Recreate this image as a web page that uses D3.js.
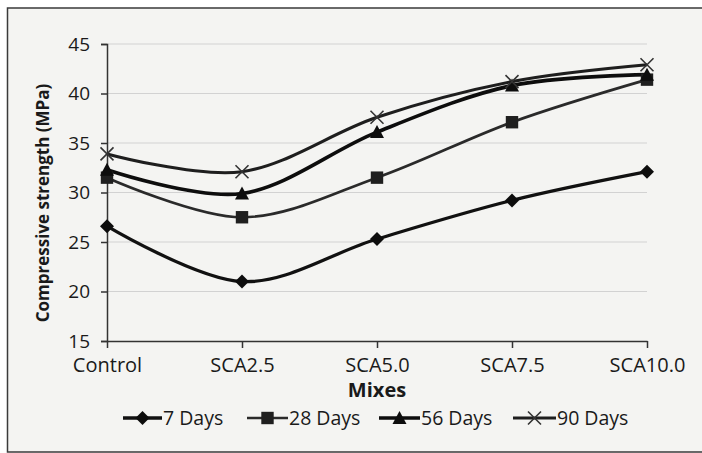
<!DOCTYPE html>
<html>
<head>
<meta charset="utf-8">
<script src="https://cdn.jsdelivr.net/npm/d3@7"></script>
<style>
  html, body { margin: 0; padding: 0; background: #ffffff; }
  svg { display: block; }
  text { font-family: "Open Sans", Lato, sans-serif; fill: #1a1a1a; }
</style>
</head>
<body>
<svg id="chart" width="702" height="453"></svg>
<script>
// Compressive strength by mix at each curing age
const mixes = ["Control", "SCA2.5", "SCA5.0", "SCA7.5", "SCA10.0"];
const days7  = [26.6, 21.0, 25.3, 29.2, 32.1];
const days28 = [31.5, 27.5, 31.5, 37.1, 41.4];
const days56 = [32.3, 29.9, 36.1, 40.8, 41.9];
const days90 = [33.9, 32.1, 37.6, 41.2, 42.9];
const seriesNames = ["7 Days", "28 Days", "56 Days", "90 Days"];
const yTicks = [15, 20, 25, 30, 35, 40, 45];

const series = [
  { name: seriesNames[0], values: days7,  marker: "diamond",  color: "#111", width: 3.3 },
  { name: seriesNames[1], values: days28, marker: "square",   color: "#2a2a2a", width: 2.7 },
  { name: seriesNames[2], values: days56, marker: "triangle", color: "#0d0d0d", width: 3.7 },
  { name: seriesNames[3], values: days90, marker: "cross",    color: "#1e1e1e", width: 3.1 }
];

const FONT = "'Open Sans', Lato, sans-serif";
const svg = d3.select("#chart");

// chart frame
svg.append("rect")
  .attr("x", 7.5).attr("y", 8).attr("width", 700).attr("height", 444)
  .attr("fill", "#f4f4f2").attr("stroke", "#3a3a3a").attr("stroke-width", 1.5);

const plot = { left: 107, right: 647, top: 44, bottom: 341 };

const x = d3.scalePoint().domain(mixes).range([plot.left, plot.right]).padding(0);
const y = d3.scaleLinear().domain([15, 45]).range([plot.bottom, plot.top]);

// horizontal gridlines
svg.append("g")
  .selectAll("line")
  .data(yTicks.filter(t => t > 15))
  .join("line")
  .attr("x1", plot.left).attr("x2", plot.right)
  .attr("y1", d => y(d)).attr("y2", d => y(d))
  .attr("stroke", "#d2d2d2").attr("stroke-width", 1.2);

// y axis
const yAxis = svg.append("g")
  .attr("transform", `translate(${plot.left},0)`)
  .call(d3.axisLeft(y).tickValues(yTicks).tickSize(6).tickPadding(11).tickFormat(d3.format("d")));
yAxis.select(".domain").attr("stroke", "#333").attr("stroke-width", 1.5);
yAxis.selectAll(".tick line").attr("stroke", "#333").attr("stroke-width", 1.5);
yAxis.selectAll(".tick text").style("font-size", "19px").attr("fill", "#1a1a1a")
  .style("font-family", FONT);

// x axis
const xAxis = svg.append("g")
  .attr("transform", `translate(0,${plot.bottom})`)
  .call(d3.axisBottom(x).tickSize(7).tickPadding(10).tickSizeOuter(0));
xAxis.select(".domain").attr("stroke", "#333").attr("stroke-width", 1.5);
xAxis.selectAll(".tick line").attr("stroke", "#333").attr("stroke-width", 1.5);
xAxis.selectAll(".tick text").style("font-size", "20px").attr("fill", "#1a1a1a")
  .style("font-family", FONT);

// axis titles
svg.append("text")
  .attr("x", plot.left + (plot.right - plot.left) / 2).attr("y", 397)
  .attr("text-anchor", "middle")
  .style("font-size", "20px").style("font-weight", "bold")
  .text("Mixes");

svg.append("text")
  .attr("transform", "translate(49,203) rotate(-90)")
  .attr("text-anchor", "middle")
  .style("font-size", "17px").style("font-weight", "bold")
  .text("Compressive strength (MPa)");

// marker shapes
function drawMarker(g, type, cx, cy) {
  if (type === "diamond") {
    const r = 7;
    g.append("path")
      .attr("d", `M${cx},${cy - r}L${cx + r},${cy}L${cx},${cy + r}L${cx - r},${cy}Z`)
      .attr("fill", "#0d0d0d");
  } else if (type === "square") {
    const h = 6.2;
    g.append("rect")
      .attr("x", cx - h).attr("y", cy - h).attr("width", 2 * h).attr("height", 2 * h)
      .attr("fill", "#1f1f1f");
  } else if (type === "triangle") {
    const h = 7;
    g.append("path")
      .attr("d", `M${cx},${cy - h}L${cx + h},${cy + h * 0.85}L${cx - h},${cy + h * 0.85}Z`)
      .attr("fill", "#0d0d0d");
  } else if (type === "cross") {
    const h = 6.5;
    g.append("path")
      .attr("d", `M${cx - h},${cy - h}L${cx + h},${cy + h}M${cx - h},${cy + h}L${cx + h},${cy - h}`)
      .attr("stroke", "#333").attr("stroke-width", 1.6).attr("fill", "none");
  }
}

// smoothed series lines
const line = d3.line()
  .x((d, i) => x(mixes[i]))
  .y(d => y(d))
  .curve(d3.curveCardinal.tension(0));

const seriesG = svg.append("g");
series.forEach(s => {
  seriesG.append("path")
    .datum(s.values)
    .attr("d", line)
    .attr("fill", "none")
    .attr("stroke", s.color)
    .attr("stroke-width", s.width)
    .attr("stroke-linejoin", "round");
});
series.forEach(s => {
  const mg = seriesG.append("g");
  s.values.forEach((v, i) => drawMarker(mg, s.marker, x(mixes[i]), y(v)));
});

// legend
const legendY = 418;
const legendItems = [
  { x0: 123, x1: 162 },
  { x0: 247, x1: 288 },
  { x0: 379, x1: 420 },
  { x0: 513, x1: 556 }
];
const legend = svg.append("g");
series.forEach((s, i) => {
  const it = legendItems[i];
  legend.append("line")
    .attr("x1", it.x0).attr("x2", it.x1)
    .attr("y1", legendY).attr("y2", legendY)
    .attr("stroke", s.color).attr("stroke-width", s.width);
  drawMarker(legend, s.marker, (it.x0 + it.x1) / 2, legendY);
  legend.append("text")
    .attr("x", it.x1 + 1).attr("y", legendY + 7)
    .style("font-size", "19.5px")
    .text(s.name);
});
</script>
</body>
</html>
